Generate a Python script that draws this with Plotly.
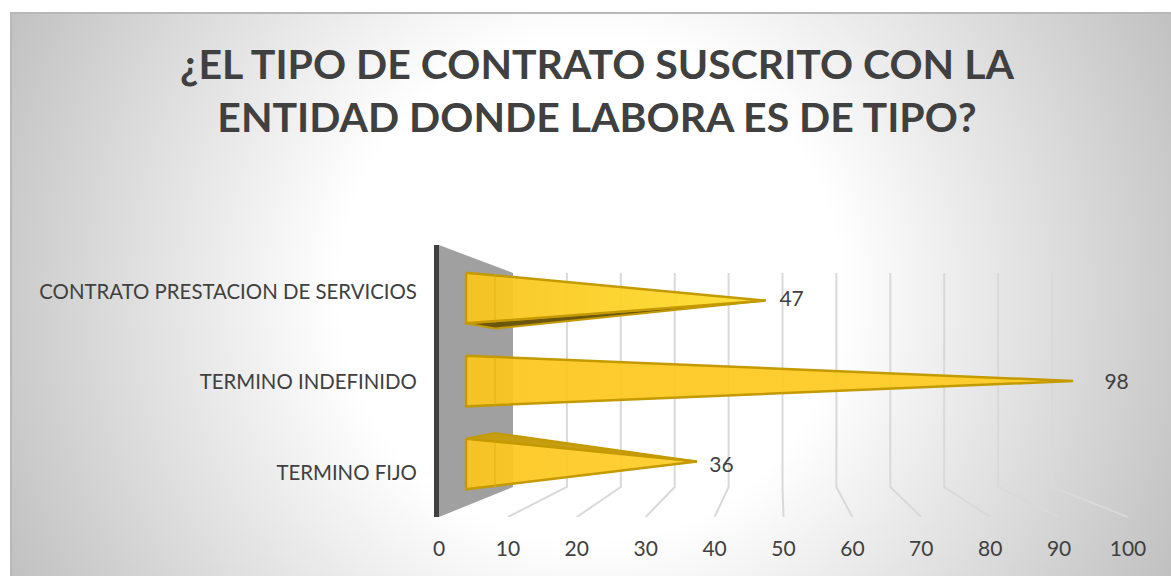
import base64
import plotly.graph_objects as go

# ---- data ----
categories = ["TERMINO FIJO", "TERMINO INDEFINIDO", "CONTRATO PRESTACION DE SERVICIOS"]
values = [36, 98, 47]
x_ticks = [0, 10, 20, 30, 40, 50, 60, 70, 80, 90, 100]
title_text = "¿EL TIPO DE CONTRATO SUSCRITO CON LA<br>ENTIDAD DONDE LABORA ES DE TIPO?"

# ---- canvas geometry ----
W, H = 1171, 576
L, R, T, B = 439, 1128, 245, 517
PX_X = (R - L) / 100.0
PX_Y = 90.5
y_lo = 1 - (B - 382) / PX_Y
y_hi = 1 + (382 - T) / PX_Y
y_back_hi = 1 + (382 - 273) / PX_Y
y_back_lo = 1 + (382 - 487) / PX_Y


def back_x(v):
    return 10.74 + 0.7823 * v


def tip_x(v):
    return (27 / PX_X + (v / (0.1526 + 9e-5 * v)) / PX_X)


def center(i):
    return 1.011 + (i - 1) * 0.917


def tip_y(i):
    return 1.011 + (i - 1) * 0.889


BASE_X = 27 / PX_X
HALF = 0.28
EDGE = "#C49A00"

svg = f"""<svg xmlns='http://www.w3.org/2000/svg' width='{W-10}' height='{H-12}' preserveAspectRatio='none'>
<defs><radialGradient id='g' gradientUnits='userSpaceOnUse' cx='580' cy='278' r='650'>
<stop offset='0' stop-color='#FFFFFF'/><stop offset='0.385' stop-color='#FFFFFF'/>
<stop offset='1' stop-color='#C0C0C0'/>
</radialGradient></defs>
<rect width='{W-10}' height='{H-12}' fill='url(#g)'/>
<path d='M1 {H-12} V1 H{W-10}' fill='none' stroke='#B8B8B8' stroke-width='2'/>
</svg>"""
bg = "data:image/svg+xml;base64," + base64.b64encode(svg.encode()).decode()

fig = go.Figure()

# side wall
fig.add_trace(go.Scatter(
    x=[0, back_x(0), back_x(0), 0, 0], y=[y_hi, y_back_hi, y_back_lo, y_lo, y_hi],
    mode="lines", line=dict(width=0), fill="toself", fillcolor="#A0A0A0", hoverinfo="skip"))

# gridlines: back wall then floor
gx, gy = [], []
for t in x_ticks[1:]:
    gx += [back_x(t), back_x(t), t, None]
    gy += [y_back_hi, y_back_lo, y_lo, None]
fig.add_trace(go.Scatter(x=gx, y=gy, mode="lines",
                         line=dict(color="#D9D9D9", width=2), hoverinfo="skip"))

# hidden faces
for i, v in enumerate(values):
    if i == 2:
        fig.add_trace(go.Scatter(
            x=[BASE_X, BASE_X + 4.2, tip_x(v), BASE_X],
            y=[center(i) - HALF, center(i) - 0.337, tip_y(i), center(i) - HALF],
            mode="lines", line=dict(color=EDGE, width=2), fill="toself",
            fillcolor="#6B5710", hoverinfo="skip"))
    if i == 0:
        fig.add_trace(go.Scatter(
            x=[BASE_X, BASE_X + 4.2, tip_x(v), BASE_X],
            y=[center(i) + HALF, center(i) + 0.342, tip_y(i), center(i) + HALF],
            mode="lines", line=dict(color=EDGE, width=2), fill="toself",
            fillcolor="#C79D12", hoverinfo="skip"))

# front faces of the pyramids
grads = [
    [[0, "rgba(252,198,28,0.93)"], [1, "rgba(255,205,40,0.93)"]],
    [[0, "rgba(252,198,28,0.93)"], [1, "rgba(255,204,35,0.93)"]],
    [[0, "rgba(248,196,30,0.95)"], [1, "rgba(255,224,50,0.95)"]],
]
for i, v in enumerate(values):
    fig.add_trace(go.Scatter(
        x=[BASE_X, tip_x(v), BASE_X, BASE_X],
        y=[center(i) + HALF, tip_y(i), center(i) - HALF, center(i) + HALF],
        mode="lines", line=dict(color=EDGE, width=2.5), fill="toself",
        fillgradient=dict(type="horizontal", colorscale=grads[i]),
        hoverinfo="skip"))
    # faint rear edge seen through the translucent face
    fig.add_trace(go.Scatter(
        x=[BASE_X + 4.2, BASE_X + 4.2],
        y=[center(i) + HALF * 0.95, center(i) - HALF * 0.95],
        mode="lines", line=dict(color="rgba(225,170,0,0.45)", width=1.5), hoverinfo="skip"))

# data labels
fig.add_trace(go.Scatter(
    x=[7.7 + 0.925 * v for v in values],
    y=[1.0 + (i - 1) * 0.92 - 0.02 for i in range(3)],
    mode="text", text=[str(v) for v in values], textposition="middle center", cliponaxis=False,
    textfont=dict(family="Lato", size=21, color="#404040"), hoverinfo="skip"))

fig.update_layout(
    width=W, height=H, showlegend=False,
    margin=dict(l=L, r=W - R, t=T, b=H - B, autoexpand=False),
    paper_bgcolor="#FFFFFF", plot_bgcolor="rgba(0,0,0,0)",
    font=dict(family="Lato", color="#404040"),
    title=dict(text=title_text, x=597 / W, xanchor="center", xref="container",
               y=1 - 79 / H, yanchor="top", yref="container",
               font=dict(family="Lato", size=41, color="#404040", weight="bold")),
    xaxis=dict(range=[0, 100], tickvals=x_ticks, ticktext=[str(t) for t in x_ticks],
               showgrid=False, zeroline=False, showline=False, ticks="",
               ticklabelstandoff=17, tickfont=dict(family="Lato", size=21, color="#404040")),
    yaxis=dict(range=[y_lo, y_hi], tickvals=[0, 1, 2], ticktext=categories,
               showgrid=False, zeroline=False, showline=True, linecolor="#404040", linewidth=5,
               ticks="", ticklabelstandoff=13, tickfont=dict(family="Lato", size=20.4, color="#404040")),
    images=[dict(source=bg, xref="paper", yref="paper",
                 x=(10 - L) / (R - L), y=(B - 12) / (B - T),
                 sizex=(W - 10) / (R - L), sizey=(H - 12) / (B - T),
                 xanchor="left", yanchor="top", sizing="stretch", layer="below")],
)

fig.write_html("out.html", config={"displayModeBar": False},
               post_script="document.body.style.margin='0';document.body.style.overflow='hidden';")
